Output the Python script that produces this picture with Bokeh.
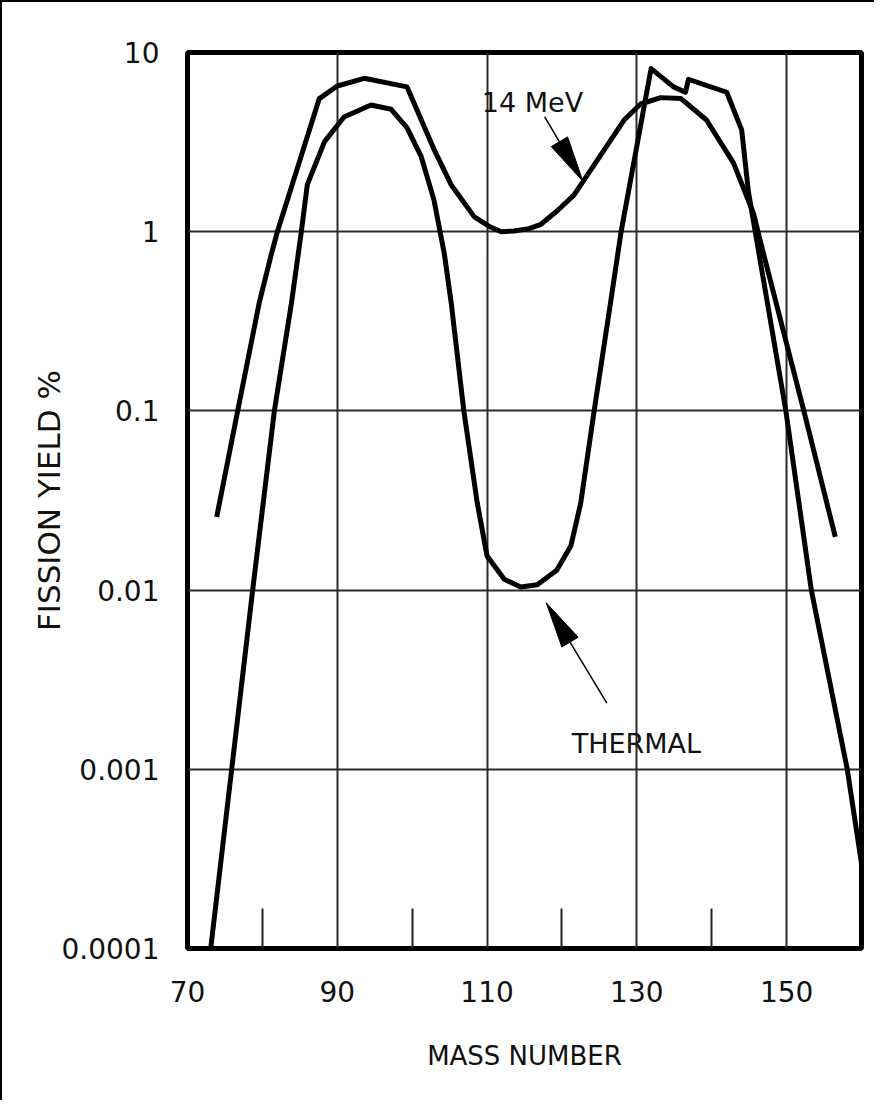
import math
from bokeh.plotting import figure
from bokeh.models import FixedTicker, Arrow, Label, Range1d
from bokeh.embed import file_html
from bokeh.resources import INLINE

# ---- data ----
mass_thermal = [73.1, 75.9, 78.7, 81.6, 83.9, 85.2, 86.0, 88.3, 90.9, 94.5, 97.2, 99.3,
                101.2, 102.9, 104.3, 105.2, 106.9, 108.7, 110.0, 112.3, 114.5, 116.7,
                119.3, 121.2, 122.5, 124.3, 126.5, 127.9, 131.9, 134.9, 136.5, 136.9,
                142.0, 144.0, 144.9, 149.9, 153.3, 158.1, 160.1]
yield_thermal = [0.0001, 0.001, 0.01, 0.1, 0.405, 1.0, 1.83, 3.18, 4.37, 5.09, 4.82, 3.81,
                 2.63, 1.51, 0.75, 0.405, 0.1, 0.0305, 0.0155, 0.0115, 0.0104, 0.0107,
                 0.0129, 0.0177, 0.0305, 0.1, 0.405, 1.0, 8.13, 6.43, 6.0, 7.08,
                 6.0, 3.7, 1.67, 0.1, 0.01, 0.001, 0.00028]

mass_14mev = [73.9, 76.7, 79.6, 81.2, 82.0, 87.6, 90.0, 93.6, 99.3, 102.9, 105.2, 108.3,
              110.3, 111.9, 113.6, 115.6, 117.2, 119.3, 121.6, 126.0, 128.3, 130.5, 133.2,
              135.9, 139.3, 142.9, 145.6, 146.5, 152.3, 156.5]
yield_14mev = [0.0256, 0.1, 0.405, 0.75, 1.0, 5.53, 6.5, 7.18, 6.43, 2.89, 1.83, 1.21,
               1.07, 1.0, 1.01, 1.04, 1.10, 1.30, 1.60, 3.01, 4.2, 5.16, 5.6,
               5.53, 4.2, 2.42, 1.26, 0.88, 0.1, 0.0198]

x_tick_values = [70, 90, 110, 130, 150]
x_minor_ticks = [80, 100, 120, 140]
x_grid_values = [90, 110, 130, 150]
y_tick_values = [0.0001, 0.001, 0.01, 0.1, 1, 10]
y_tick_labels = ["0.0001", "0.001", "0.01", "0.1", "1", "10"]
y_grid_values = [0.001, 0.01, 0.1, 1]

# annotation anchors (data units): text position, arrow tail, arrow tip
label_14mev = (109.3, 5.23)
arrow_14mev = ((117.7, 4.37), (122.8, 1.91))
label_thermal = (121.3, 0.00139)
arrow_thermal = ((126.0, 0.00234), (117.9, 0.0085))

FONT = "DejaVu Sans"
W, H = 874, 1100
ML, MR, MT, MB = 185, 15, 50, 154
X0, X1 = 70, 160
Y0, Y1 = 0.0001, 10
FW, FH = W - ML - MR, H - MT - MB

p = figure(width=W, height=H,
           x_range=Range1d(X0, X1), y_range=Range1d(Y0, Y1),
           y_axis_type="log", output_backend="svg", toolbar_location=None,
           min_border_left=ML, min_border_right=MR, min_border_top=MT,
           min_border_bottom=MB, background_fill_color="white",
           border_fill_color="white")
p.styles = {"border-left": "2px solid black", "border-top": "2px solid black"}

p.outline_line_color = "black"
p.outline_line_width = 5

# x axis
xa = p.xaxis[0]
xa.ticker = FixedTicker(ticks=x_tick_values, minor_ticks=x_minor_ticks)
xa.axis_line_color = None
xa.major_tick_in = 0
xa.major_tick_out = 0
xa.minor_tick_in = 40
xa.minor_tick_out = 0
xa.minor_tick_line_width = 2
xa.minor_tick_line_color = "#222"
xa.major_label_standoff = 32
xa.major_label_text_font = FONT
xa.major_label_text_font_size = "28px"
xa.major_label_text_color = "#111"
xa.axis_label = "MASS NUMBER"
xa.axis_label_text_font = FONT
xa.axis_label_text_font_size = "26px"
xa.axis_label_text_font_style = "normal"
xa.axis_label_text_color = "#111"
xa.axis_label_standoff = 36

# y axis
ya = p.yaxis[0]
ya.ticker = FixedTicker(ticks=y_tick_values, minor_ticks=[])
ya.major_label_overrides = dict(zip(y_tick_values, y_tick_labels))
ya.axis_line_color = None
ya.major_tick_in = 0
ya.major_tick_out = 0
ya.minor_tick_in = 0
ya.minor_tick_out = 0
ya.major_label_standoff = 28
ya.major_label_text_font = FONT
ya.major_label_text_font_size = "28px"
ya.major_label_text_color = "#111"
ya.axis_label = "FISSION YIELD %"
ya.axis_label_text_font = FONT
ya.axis_label_text_font_size = "31px"
ya.axis_label_text_font_style = "normal"
ya.axis_label_text_color = "#111"
ya.axis_label_standoff = -8

# grids
p.xgrid.ticker = FixedTicker(ticks=x_grid_values)
p.ygrid.ticker = FixedTicker(ticks=y_grid_values)
for g in (p.xgrid[0], p.ygrid[0]):
    g.grid_line_color = "#2a2a2a"
    g.grid_line_width = 2
    g.grid_line_alpha = 1.0

# curves
p.line(mass_14mev, yield_14mev, line_width=5, line_color="black", line_join="round")
p.line(mass_thermal, yield_thermal, line_width=5, line_color="black", line_join="round")


# helpers: convert between data and frame pixels, to shape slim arrow heads
def to_px(x, y):
    sx = (x - X0) / (X1 - X0) * FW
    sy = (math.log10(Y1) - math.log10(y)) / (math.log10(Y1) - math.log10(Y0)) * FH
    return sx, sy


def to_data(sx, sy):
    x = X0 + sx / FW * (X1 - X0)
    ly = math.log10(Y1) - sy / FH * (math.log10(Y1) - math.log10(Y0))
    return x, 10 ** ly


def slim_arrow(tail, tip, head_len=46, head_w=19):
    tx, ty = to_px(*tail)
    hx, hy = to_px(*tip)
    dx, dy = hx - tx, hy - ty
    n = math.hypot(dx, dy)
    ux, uy = dx / n, dy / n
    bx, by = hx - ux * head_len, hy - uy * head_len
    px, py = -uy * head_w / 2, ux * head_w / 2
    corners = [to_data(hx, hy), to_data(bx + px, by + py), to_data(bx - px, by - py)]
    base = to_data(bx, by)
    p.add_layout(Arrow(end=None, x_start=tail[0], y_start=tail[1],
                       x_end=base[0], y_end=base[1],
                       line_width=1.5, line_color="black"))
    p.patch([c[0] for c in corners], [c[1] for c in corners],
            fill_color="black", line_color="black", line_width=1)


slim_arrow(*arrow_14mev)
slim_arrow(*arrow_thermal)

p.add_layout(Label(x=label_14mev[0], y=label_14mev[1], text="14 MeV", text_font=FONT,
                   text_font_size="27px", text_color="#111",
                   text_baseline="alphabetic", text_align="left"))
p.add_layout(Label(x=label_thermal[0], y=label_thermal[1], text="THERMAL", text_font=FONT,
                   text_font_size="27px", text_color="#111",
                   text_baseline="alphabetic", text_align="left"))

open("out.html", "w").write(file_html(p, INLINE))
